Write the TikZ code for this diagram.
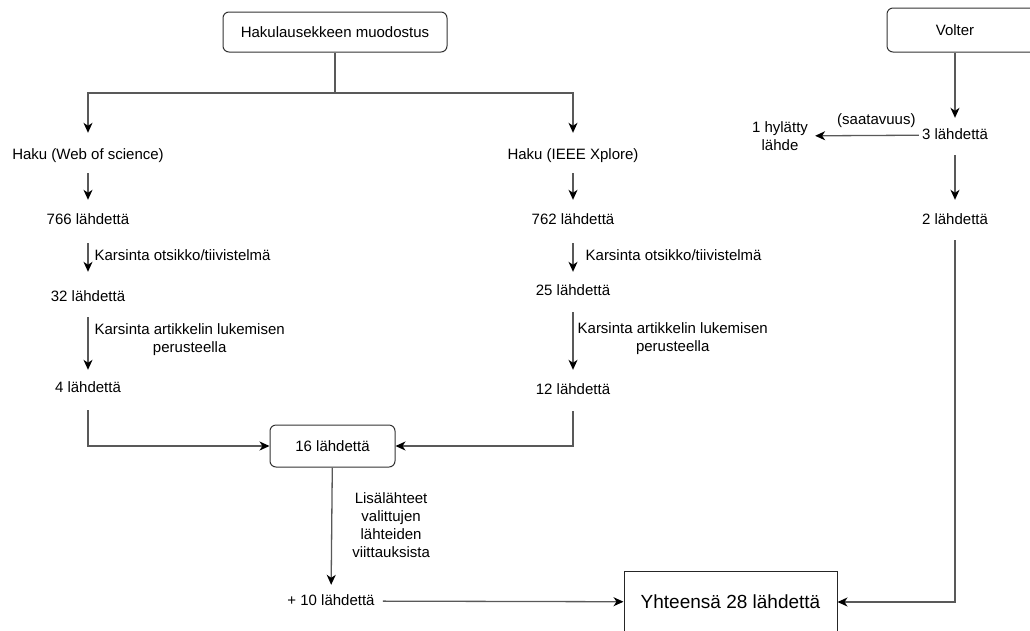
\documentclass[tikz,border=0pt]{standalone}
\usepackage{fontspec}
\setmainfont{Liberation Sans}
\usetikzlibrary{arrows.meta,positioning}
\tikzstyle{roundbox}=[rectangle, draw=black!80, line width=1pt, rounded corners=6pt, minimum height=40pt]
\tikzstyle{squarebox}=[rectangle, draw=black!85, line width=1pt]
\tikzstyle{count}=[inner sep=0pt, text height=10pt, text depth=2pt]
\tikzstyle{link}=[draw=black!65, line width=1.3pt]
\tikzstyle{flow}=[link, -{Stealth[length=10pt,width=9pt,inset=3pt,color=black,fill=black]}]
\tikzstyle{note}=[align=center, inner sep=0pt]

\begin{document}
\begin{tikzpicture}[x=1pt, y=-1pt, font=\fontsize{15}{18}\selectfont]
  \useasboundingbox (0,0) rectangle (1030,630);
  \clip (0,0) rectangle (1030,630);

  % lähtökohdat
  \node[roundbox, minimum width=224pt] (query) at (335,32) {Hakulausekkeen muodostus};
  \node[roundbox, minimum width=150pt, minimum height=44pt] (volter) at (962,30) {\hspace*{-14pt}Volter};
  \coordinate (split) at (335,93);

  % Web of science
  \node[count] (wos)    at (88,155) {Haku (Web of science)};
  \node[count] (wos766) at (88,220) {766 lähdettä};
  \node[count] (wos32)  at (88,297) {32 lähdettä};
  \node[count] (wos4)   at (88,388) {4 lähdettä};

  % IEEE Xplore
  \node[count] (ieee)    at (573,155) {Haku (IEEE Xplore)};
  \node[count] (ieee762) at (573,220) {762 lähdettä};
  \node[count] (ieee25)  at (573,291) {25 lähdettä};
  \node[count] (ieee12)  at (573,390) {12 lähdettä};

  % Volter
  \node[count] (volt3)  at (955,135) {3 lähdettä};
  \node[note]  (reject) at (780,136) {1 hylätty\\lähde};
  \node[count] (volt2)  at (955,220) {2 lähdettä};

  % yhdistäminen
  \node[roundbox, minimum width=125pt, minimum height=42pt] (merged) at (332.5,446) {16 lähdettä};
  \node[count] (extra) at (331,601) {+ 10 lähdettä};
  \node[squarebox, minimum width=213pt, minimum height=62pt, font=\fontsize{19}{22}\selectfont] (total) at (730.5,602) {Yhteensä 28 lähdettä};

  % nuolet
  \draw[link] (query) -- (split);
  \draw[flow, shorten >=16pt] (split) -| (wos);
  \draw[flow, shorten >=16pt] (split) -| (ieee);

  \draw[flow, shorten <=12pt, shorten >=14pt] (wos) -- (wos766);
  \draw[flow, shorten <=17pt, shorten >=19pt] (wos766) -- (wos32)
    node[midway, right=6pt, yshift=3pt, note] {Karsinta otsikko/tiivistelmä};
  \draw[flow, shorten <=14pt, shorten >=12pt] (wos32) -- (wos4)
    node[midway, right=6pt, yshift=3pt, note] {Karsinta artikkelin lukemisen\\perusteella};
  \draw[flow, shorten <=16pt] (wos4) |- (merged);

  \draw[flow, shorten <=12pt, shorten >=14pt] (ieee) -- (ieee762);
  \draw[flow, shorten <=17pt, shorten >=13pt] (ieee762) -- (ieee25)
    node[midway, right=12pt, note] {Karsinta otsikko/tiivistelmä};
  \draw[flow, shorten <=15pt, shorten >=14pt] (ieee25) -- (ieee12)
    node[midway, right=4pt, yshift=2pt, note] {Karsinta artikkelin lukemisen\\perusteella};
  \draw[flow, shorten <=15pt] (ieee12) |- (merged);

  \draw[flow, shorten >=11pt] (volter.south -| volt3) -- (volt3);
  \draw[flow, shorten <=3pt, shorten >=7pt] (volt3) -- (reject)
    node[pos=0.4, above=8pt, count] {(saatavuus)};
  \draw[flow, shorten <=14pt, shorten >=14pt] (volt3) -- (volt2);
  \draw[flow, shorten <=14pt] (volt2) |- (total);

  \draw[flow, shorten >=10pt] (merged) -- (extra)
    node[midway, right=20pt, yshift=6pt, note] {Lisälähteet\\valittujen\\lähteiden\\viittauksista};
  \draw[flow, shorten <=8pt] (extra) -- (total);
\end{tikzpicture}
\end{document}
